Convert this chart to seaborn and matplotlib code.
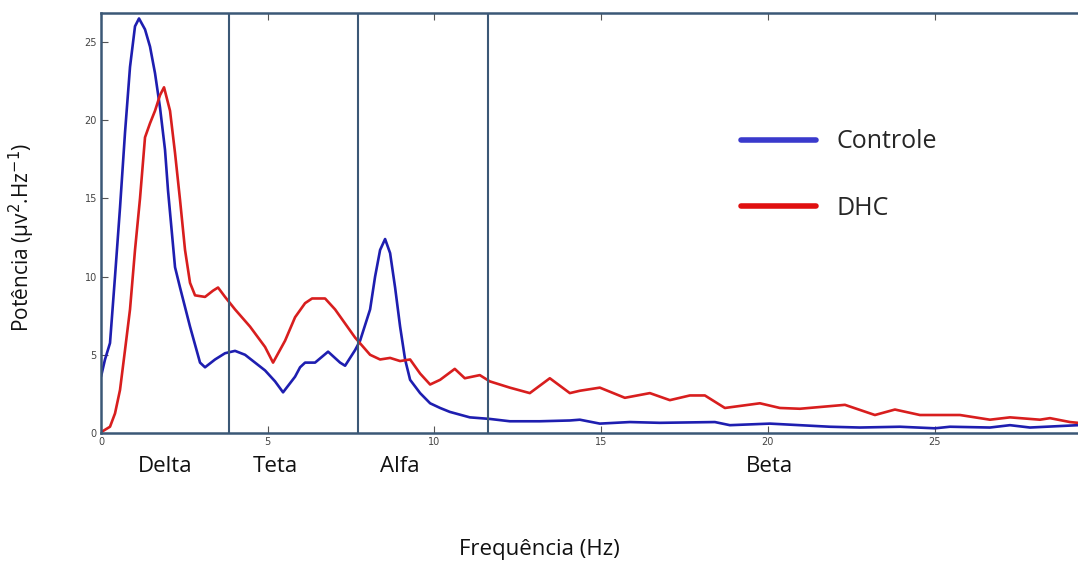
import numpy as np
import pandas as pd
import matplotlib
matplotlib.use("Agg")
import matplotlib.pyplot as plt
import matplotlib.transforms as mtransforms
import seaborn as sns

# ---- data ----
freq_controle = [0.00, 0.12, 0.27, 0.42, 0.57, 0.72, 0.87, 1.02, 1.14, 1.32, 1.47, 1.62, 1.77, 1.92,
                 2.01, 2.22, 2.37, 2.67, 2.97, 3.12, 3.42, 3.72, 4.02, 4.32, 4.62, 4.92, 5.22, 5.46,
                 5.82, 5.97, 6.12, 6.42, 6.81, 7.17, 7.32, 7.62, 7.77, 8.07, 8.22, 8.37, 8.52, 8.67,
                 8.82, 8.97, 9.12, 9.27, 9.57, 9.87, 10.17, 10.46, 11.06, 11.66, 12.26, 13.16, 14.06,
                 14.36, 14.96, 15.86, 16.76, 18.41, 18.86, 20.06, 21.86, 22.76, 23.96, 25.01, 25.46,
                 26.66, 27.26, 27.86, 29.3]
pot_controle = [3.6, 4.7, 5.75, 10.0, 14.4, 19.2, 23.4, 26.0, 26.5, 25.8, 24.7, 23.0, 20.8, 18.1,
                15.5, 10.6, 9.3, 6.8, 4.5, 4.2, 4.7, 5.1, 5.25, 5.0, 4.5, 4.0, 3.3, 2.6,
                3.6, 4.2, 4.5, 4.5, 5.2, 4.5, 4.3, 5.3, 5.9, 7.9, 10.0, 11.7, 12.4, 11.5,
                9.3, 6.8, 4.7, 3.4, 2.55, 1.9, 1.6, 1.35, 1.0, 0.9, 0.75, 0.75, 0.8,
                0.85, 0.6, 0.7, 0.65, 0.7, 0.5, 0.6, 0.4, 0.35, 0.4, 0.3, 0.4,
                0.35, 0.5, 0.35, 0.5]

freq_dhc = [0.00, 0.27, 0.42, 0.57, 0.72, 0.87, 1.02, 1.17, 1.32, 1.47, 1.62, 1.77, 1.89, 2.07,
            2.22, 2.37, 2.52, 2.67, 2.82, 3.12, 3.36, 3.51, 3.72, 4.02, 4.47, 4.92, 5.16, 5.52,
            5.82, 6.12, 6.33, 6.72, 7.02, 7.32, 7.62, 8.07, 8.37, 8.67, 8.97, 9.27, 9.57, 9.87,
            10.17, 10.61, 10.91, 11.36, 11.66, 12.26, 12.86, 13.46, 14.06, 14.36, 14.96, 15.71,
            16.46, 17.06, 17.66, 18.11, 18.71, 19.76, 20.36, 20.96, 22.31, 23.21, 23.81, 24.56,
            25.76, 26.66, 27.26, 28.16, 28.46, 29.06, 29.3]
pot_dhc = [0.05, 0.4, 1.25, 2.75, 5.3, 7.9, 11.7, 15.0, 18.9, 19.8, 20.6, 21.6, 22.1, 20.6,
           17.9, 14.9, 11.7, 9.6, 8.8, 8.7, 9.1, 9.3, 8.7, 7.9, 6.8, 5.5, 4.5, 5.9,
           7.4, 8.3, 8.6, 8.6, 7.9, 7.0, 6.1, 5.0, 4.7, 4.8, 4.6, 4.7, 3.8, 3.1,
           3.4, 4.1, 3.5, 3.7, 3.3, 2.9, 2.55, 3.5, 2.55, 2.7, 2.9, 2.25,
           2.55, 2.1, 2.4, 2.4, 1.6, 1.9, 1.6, 1.55, 1.8, 1.15, 1.5, 1.15,
           1.15, 0.85, 1.0, 0.85, 0.95, 0.7, 0.65]

grupos = ["Controle", "DHC"]
band_limits = [3.85, 7.7, 11.6]
band_names = ["Delta", "Teta", "Alfa", "Beta"]
band_label_x = [1.92, 5.22, 8.97, 20.06]
x_ticks = [0, 5, 10, 15, 20, 25]
y_ticks = [0, 5, 10, 15, 20, 25]

df = pd.concat([
    pd.DataFrame({"Frequência": freq_controle, "Potência": pot_controle, "Grupo": grupos[0]}),
    pd.DataFrame({"Frequência": freq_dhc, "Potência": pot_dhc, "Grupo": grupos[1]}),
], ignore_index=True)

sns.set_style("white")
plt.rcParams["font.family"] = ["DejaVu Sans"]

frame_col = "#3b5876"
text_font = ["Open Sans", "DejaVu Sans"]
fig = plt.figure(figsize=(10.78, 5.64), dpi=100)
ax = fig.add_axes([101 / 1078, 1 - 433 / 564, 1 - 101 / 1078, (433 - 13) / 564])

palette = {"Controle": "#1e1eb0", "DHC": "#d81e1e"}
sns.lineplot(data=df, x="Frequência", y="Potência", hue="Grupo", palette=palette,
             linewidth=1.9, ax=ax, sort=False, legend=True)

ax.set_xlim(0, 29.3)
ax.set_ylim(0, 26.85)

for bx in band_limits:
    ax.axvline(bx, color=frame_col, linewidth=1.5, zorder=3)

for side in ["left", "bottom", "top"]:
    ax.spines[side].set_color(frame_col)
    ax.spines[side].set_linewidth(1.8)
ax.spines["right"].set_visible(False)

ax.set_xticks(x_ticks)
ax.set_yticks(y_ticks)
ax.tick_params(axis="both", direction="in", length=5, width=0.8, color="#555555",
               labelsize=7, labelcolor="#444444", pad=3)
ax.tick_params(axis="x", top=True, bottom=True)
ax.tick_params(axis="y", left=True)

ax.set_xlabel("")
ax.set_ylabel("")

trans = mtransforms.blended_transform_factory(ax.transData, ax.transAxes)
for name, bx in zip(band_names, band_label_x):
    ax.text(bx, -0.079, name, transform=trans, ha="center", va="center",
            fontsize=16, family=text_font, color="#111111")

fig.text(539 / 1078, 1 - 550 / 564, "Frequência (Hz)", ha="center", va="center",
         fontsize=16, family=text_font, color="#111111")
fig.text(22 / 1078, 1 - 237 / 564, "Potência (µv$^{2}$.Hz$^{-1}$)", ha="center", va="center",
         rotation=90, fontsize=15, family=text_font, color="#111111")

leg = ax.legend(loc="upper left", bbox_to_anchor=((718 - 101) / 977, (433 - 107) / 420),
                frameon=False, handlelength=3.0, handletextpad=0.85, labelspacing=1.65,
                prop={"family": "Open Sans", "size": 18}, title=None)
for line in leg.get_lines():
    line.set_linewidth(4)
leg.get_lines()[0].set_color("#3a3acc")
leg.get_lines()[1].set_color("#e01010")

fig.savefig("out.png", dpi=100)
